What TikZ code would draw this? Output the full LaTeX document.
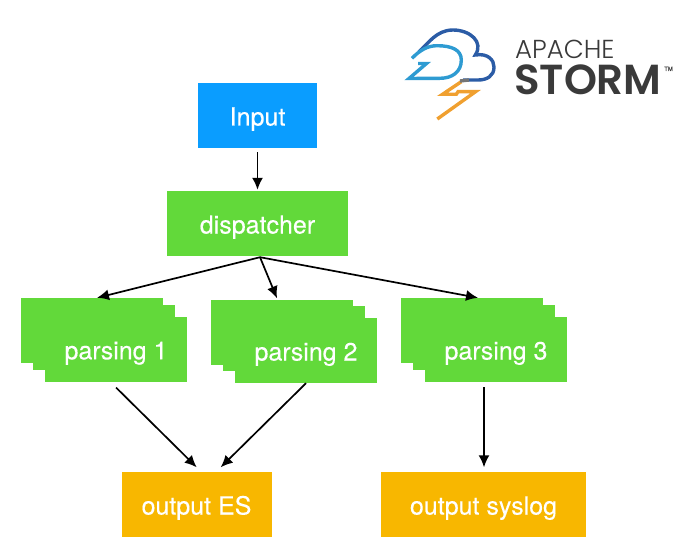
\documentclass[tikz,border=0pt]{standalone}
\usepackage{fontspec}
\setmainfont[FakeBold=0.25]{TeX Gyre Heros}
\newfontfamily\logolight[UprightFont={* Light}]{Poppins}
\newfontfamily\logobold[UprightFont={* SemiBold}]{Poppins}
\usetikzlibrary{arrows.meta,calc}
\definecolor{inputblue}{HTML}{0A9DFF}
\definecolor{stepgreen}{HTML}{62D93A}
\definecolor{outputorange}{HTML}{F8B700}
\definecolor{stormdark}{HTML}{2B5CA6}
\definecolor{stormlight}{HTML}{2E9BD2}
\definecolor{stormbolt}{HTML}{F0A030}
\definecolor{stormtext}{HTML}{3A3A3A}

\begin{document}
\begin{tikzpicture}[
  x=1pt, y=-1pt,
  box/.style={inner sep=0pt, minimum height=65pt, text=white, text height=20pt, text depth=0pt, font=\fontsize{25}{30}\selectfont},
  parsing/.style={box, fill=stepgreen, minimum width=142pt},
  arrow/.style={-{Latex[length=12pt,width=11pt]}, line width=1.7pt},
  logoline/.style={line width=3.4pt, line join=miter, line cap=butt}
]
\useasboundingbox (0,0) rectangle (692,548);
% main flow
\node[box, fill=inputblue, minimum width=119pt] (input) at (257.5,115.5) {Input};
\node[box, fill=stepgreen, minimum width=181pt] (dispatcher) at (257.5,223.5) {dispatcher};
\node[parsing] (parsingAback) at (92.3,330.5) {};
\node[parsing] (parsingAmid) at (104.3,337.5) {};
\node[parsing] (parsingA) at (116,349.3) {parsing 1};
\node[parsing] (parsingBback) at (282,332) {};
\node[parsing] (parsingBmid) at (294,338.5) {};
\node[parsing] (parsingB) at (306,350.5) {parsing 2};
\node[parsing] (parsingCback) at (472,330.5) {};
\node[parsing] (parsingCmid) at (484,337.5) {};
\node[parsing] (parsingC) at (496,349.5) {parsing 3};
\node[box, fill=outputorange, minimum width=150pt] (outES) at (196.5,504.5) {output ES};
\node[box, fill=outputorange, minimum width=205pt] (outSyslog) at (483.5,504.5) {output syslog};
\coordinate (fan) at ($(dispatcher.south)+(2.5,1)$);
\draw[arrow, shorten <=4pt, shorten >=1pt] (input) -- (dispatcher);
\draw[arrow] (fan) -- ($(parsingAback.north)+(4.7,0)$);
\draw[arrow] (fan) -- ($(parsingBback.north)+(-5,-1)$);
\draw[arrow] (fan) -- ($(parsingCback.north)+(6,0)$);
\draw[arrow] ($(parsingA.south)+(0,5.5)$) -- ($(outES.north)+(0.2,-4.5)$);
\draw[arrow] ($(parsingB.south)+(0,0)$) -- ($(outES.north)+(24.2,-4.5)$);
\draw[arrow] ($(parsingC.south)+(-12,5)$) -- ($(outSyslog.north)+(0.5,-4.5)$);
% logo
\draw[logoline, stormdark] (418.7,52) .. controls (428,44) and (436,30) .. (453,30)
  .. controls (470,30) and (484,42) .. (475.3,55)
  .. controls (488,53) and (494,60) .. (494,67)
  .. controls (494,76) and (487,80) .. (478,80) -- (463,80);
\draw[logoline, stormlight] (412,58.3) .. controls (420,50) and (428,45.7) .. (437,45.7)
  .. controls (452,45.7) and (461.3,50) .. (461.3,60)
  .. controls (461.3,72) and (452,78.3) .. (440,78.3) -- (409,78.5) -- (426.5,63.5) -- (418,63.5);
\draw[logoline, stormbolt, miter limit=20] (461.3,81.7) -- (442.5,94.3) -- (456.3,94.3) -- (458,91.7) -- (475.5,91.7) -- (437.3,119);
\draw[line width=3.4pt, stormtext!70] (469,80) -- (460,81);
\node[inner sep=0pt, anchor=base west, text=stormtext, font=\logolight\fontsize{26}{30}\selectfont] (apache) at (515,59) {APACHE};
\node[inner sep=0pt, anchor=base west, text=stormtext, font=\logobold\fontsize{42}{50}\selectfont] (storm) at (514,95) {STORM};
\node[inner sep=0pt, anchor=base west, text=stormtext, font=\fontsize{6}{7}\selectfont] (tm) at (664,71) {TM};
\end{tikzpicture}
\end{document}
